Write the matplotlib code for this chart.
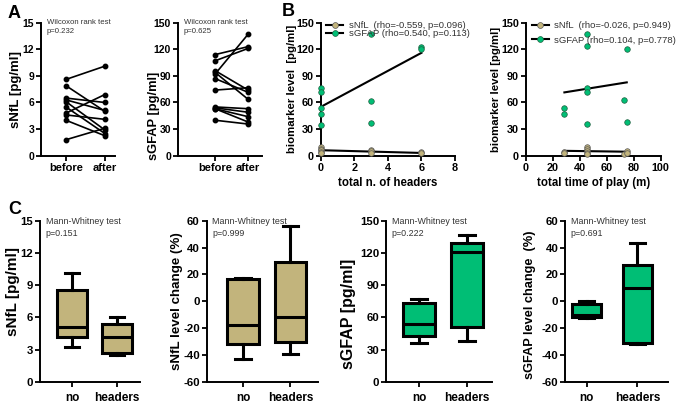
import matplotlib.pyplot as plt
import numpy as np

plt.rcParams['font.family'] = ['Liberation Sans', 'DejaVu Sans']
plt.rcParams['axes.unicode_minus'] = False

TAN = '#C2B47C'
GREEN = '#00BE75'

# panel A: paired before / after values
nfl_before = [8.6, 7.9, 6.5, 6.3, 6.1, 5.5, 4.8, 4.6, 4.0, 1.8]
nfl_after = [10.1, 5.0, 6.0, 5.1, 2.9, 2.5, 6.9, 4.1, 2.25, 3.1]
gfap_before = [114, 107, 92, 96, 94, 87, 74, 55, 54, 53, 53, 40]
gfap_after = [123, 121, 137, 74, 63.6, 71.5, 76.7, 53, 49, 38, 44, 35.7]

# panel B: correlations
headers_nfl = [0, 0, 0, 0, 0, 3, 3, 3, 6, 6]
nfl_by_headers = [10.0, 8.0, 6.0, 4.5, 3.0, 6.0, 5.0, 2.5, 4.0, 3.0]
headers_gfap = [0, 0, 0, 0, 0, 3, 3, 3, 6, 6]
gfap_by_headers = [76, 71.8, 53.4, 47, 35, 137, 62, 37, 123, 120]
fit_headers_x = [0, 6]
fit_headers_nfl = [6.2, 3.1]
fit_headers_gfap = [55, 116]

time_nfl = [28, 28, 45, 45, 45, 45, 45, 73, 75, 75]
nfl_by_time = [4.5, 3.0, 10.0, 7.0, 5.0, 3.5, 2.0, 2.0, 5.0, 3.5]
time_gfap = [28, 28, 45, 45, 45, 45, 45, 73, 75, 75]
gfap_by_time = [53.4, 47, 136.8, 124, 76.3, 71.8, 35.4, 62.4, 120, 37.6]
fit_time_x = [28.5, 74.8]
fit_time_nfl = [5.5, 4.5]
fit_time_gfap = [71.4, 82.7]

# panel C: box statistics (whislo, q1, med, q3, whishi)
groups = ['no', 'headers']
box_nfl = [[3.2, 4.2, 5.1, 8.5, 10.1], [2.5, 2.7, 4.2, 5.4, 6.0]]
box_nfl_change = [[-43, -31.9, -18, 16.3, 17.5], [-39.3, -30.6, -11.8, 29.2, 55.8]]
box_gfap = [[35.8, 42.6, 53.8, 73, 76.8], [38.2, 51.2, 120.5, 129.5, 137]]
box_gfap_change = [[-12.8, -11.5, -10, -2.1, 0.4], [-32.1, -31.4, 9.6, 27, 43.2]]

W, H = 676, 403
fig = plt.figure(figsize=(W / 100, H / 100), dpi=100)


def axes_px(left, top, right, bottom):
    return fig.add_axes([left / W, 1 - bottom / H, (right - left) / W, (bottom - top) / H])


def style(ax, size):
    for s in ['top', 'right']:
        ax.spines[s].set_visible(False)
    for s in ['left', 'bottom']:
        ax.spines[s].set_linewidth(1.4)
    ax.tick_params(width=1.3, length=3.5, labelsize=size, pad=1.5)
    for lab in ax.get_xticklabels() + ax.get_yticklabels():
        lab.set_fontweight('bold')


def note(ax, txt, size):
    ax.annotate(txt, xy=(0, 1), xycoords='axes fraction', xytext=(4, 3),
                textcoords='offset points', va='top', ha='left',
                fontsize=size, color='#333333', linespacing=1.45)


# ---- A
for (l, r, xl, b, a, yl, yt, pv, lx, ly, lsz) in [
        (41, 115, (-0.64, 1.26), nfl_before, nfl_after, 'sNfL [pg/ml]',
         np.arange(0, 16, 3), 'p=0.232', -0.26, 0.5, 9.5),
        (178, 262, (-1.12, 1.42), gfap_before, gfap_after, 'sGFAP [pg/ml]',
         np.arange(0, 151, 30), 'p=0.625', -0.21, 0.3, 9.3)]:
    ax = axes_px(l, 22.7, r, 155.7)
    for y0, y1 in zip(b, a):
        ax.plot([0, 1], [y0, y1], color='black', lw=1.2, marker='o', ms=3.2)
    ax.set_ylim(0, yt[-1])
    ax.set_yticks(yt)
    ax.set_xticks([0, 1])
    ax.set_xticklabels(['before', 'after'])
    ax.set_xlim(*xl)
    ax.set_ylabel(yl, fontsize=lsz, fontweight='bold')
    ax.yaxis.set_label_coords(lx, ly)
    style(ax, 7.5)
    ax.tick_params(axis='x', labelsize=8)
    note(ax, 'Wilcoxon rank test\n' + pv, 5.6)

# ---- B
for (l, r, xn, yn, xg, yg, fx, fn, fg, xmax, xt, xl, yl, labs, lsp, lx) in [
        (320.7, 455, headers_nfl, nfl_by_headers, headers_gfap, gfap_by_headers,
         fit_headers_x, fit_headers_nfl, fit_headers_gfap, 8, np.arange(0, 9, 2),
         'total n. of headers', 'biomarker level  [pg/ml]',
         ['sNfL  (rho=-0.559, p=0.096)', 'sGFAP (rho=0.540, p=0.113)'], -0.1, -0.18),
        (526, 660.7, time_nfl, nfl_by_time, time_gfap, gfap_by_time,
         fit_time_x, fit_time_nfl, fit_time_gfap, 100, np.arange(0, 101, 20),
         'total time of play (m)', 'biomarker level [pg/ml]',
         ['sNfL  (rho=-0.026, p=0.949)', 'sGFAP (rho=0.104, p=0.778)'], 0.6, -0.185)]:
    ax = axes_px(l, 22.7, r, 155.7)
    ax.plot(fx, fn, color='black', lw=1.5)
    ax.plot(fx, fg, color='black', lw=1.5)
    ax.scatter(xn, yn, s=16, color=TAN, edgecolor='#555555', lw=0.5, zorder=3, clip_on=False)
    ax.scatter(xg, yg, s=16, color=GREEN, edgecolor='#1f5f3f', lw=0.5, zorder=3, clip_on=False)
    h1, = ax.plot([], [], color='black', lw=1.5, marker='o', ms=4.2, mfc=TAN, mec='#555555', mew=0.5)
    h2, = ax.plot([], [], color='black', lw=1.5, marker='o', ms=4.2, mfc=GREEN, mec='#1f5f3f', mew=0.5)
    leg = ax.legend([h1, h2], labs, loc='upper left', bbox_to_anchor=(0.0, 1.055),
                    frameon=False, fontsize=6.8, handlelength=1.8, handletextpad=0.6,
                    labelspacing=lsp, borderaxespad=0.2)
    for t in leg.get_texts():
        t.set_color('#333333')
    ax.set_xlim(0, xmax)
    ax.set_ylim(0, 150)
    ax.set_xticks(xt)
    ax.set_yticks(np.arange(0, 151, 30))
    ax.set_xlabel(xl, fontsize=8.3, fontweight='bold', labelpad=3)
    ax.set_ylabel(yl, fontsize=8.2, fontweight='bold')
    ax.yaxis.set_label_coords(lx, 0.5)
    style(ax, 7.8)

# ---- C
for (l, r, pos, bw, stats_list, col, yl, ylim, yt, pv, lsz, lx, ly) in [
        (40, 140, (-0.711, 1.51), 0.65, box_nfl, TAN, 'sNfL [pg/ml]', (0, 15),
         np.arange(0, 16, 3), 'p=0.151', 11, -0.2, 0.56),
        (206.7, 318, (-0.764, 1.58), 0.66, box_nfl_change, TAN, 'sNfL level change (%)', (-60, 60),
         np.arange(-60, 61, 20), 'p=0.999', 9.6, -0.215, 0.5),
        (386, 492, (-0.6875, 1.52), 0.66, box_gfap, GREEN, 'sGFAP [pg/ml]', (0, 150),
         np.arange(0, 151, 30), 'p=0.222', 11.5, -0.28, 0.42),
        (565.3, 668, (-0.42, 1.6), 0.58, box_gfap_change, GREEN, 'sGFAP level change  (%)', (-60, 60),
         np.arange(-60, 61, 20), 'p=0.691', 9.2, -0.29, 0.48)]:
    ax = axes_px(l, 220.7, r, 381.7)
    stats = [dict(whislo=s[0], q1=s[1], med=s[2], q3=s[3], whishi=s[4], fliers=[], label=g)
             for s, g in zip(stats_list, groups)]
    ax.bxp(stats, positions=[0, 1], widths=bw, patch_artist=True, showfliers=False,
           boxprops=dict(facecolor=col, edgecolor='black', lw=2.2),
           medianprops=dict(color='black', lw=2.2),
           whiskerprops=dict(color='black', lw=2.2),
           capprops=dict(color='black', lw=2.2))
    ax.set_xlim(*pos)
    ax.set_ylim(*ylim)
    ax.set_yticks(yt)
    ax.set_xticks([0, 1])
    ax.set_xticklabels(groups)
    ax.set_ylabel(yl, fontsize=lsz, fontweight='bold')
    ax.yaxis.set_label_coords(lx, ly)
    style(ax, 8.2)
    ax.tick_params(axis='x', labelsize=8.5, pad=4)
    note(ax, 'Mann-Whitney test\n' + pv, 6.4)

fig.text(8 / W, 1 - 13 / H, 'A', fontsize=13, fontweight='bold', va='center')
fig.text(282 / W, 1 - 12 / H, 'B', fontsize=13, fontweight='bold', va='center')
fig.text(8 / W, 1 - 209 / H, 'C', fontsize=13, fontweight='bold', va='center')

fig.savefig('out.png', dpi=100)
